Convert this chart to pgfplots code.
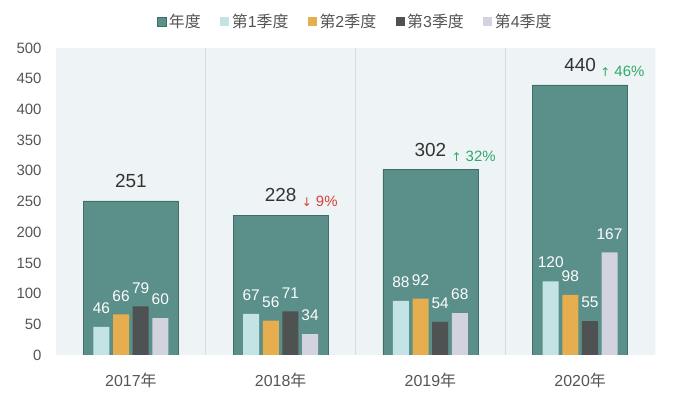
\documentclass[border=0pt]{standalone}
\usepackage{pgfplots}
\pgfplotsset{compat=1.18}
\usepackage{fontspec}
\setmainfont{Liberation Sans}
\newfontfamily\cjk{Noto Sans CJK SC}
\newfontfamily\sym{DejaVu Sans}
\definecolor{annual}{HTML}{5A8F8A}
\definecolor{annualdark}{HTML}{3F6E69}
\definecolor{qone}{HTML}{C4E3E4}
\definecolor{qtwo}{HTML}{E6AE4E}
\definecolor{qthree}{HTML}{4F5252}
\definecolor{qfour}{HTML}{D3D2DF}
\definecolor{bg}{HTML}{EEF3F5}
\definecolor{sep}{HTML}{D6DDE1}
\definecolor{tickgray}{HTML}{555555}
\definecolor{labelgray}{HTML}{333333}
\definecolor{redc}{HTML}{D9403A}
\definecolor{greenc}{HTML}{2EAA6A}
\begin{document}
\begin{tikzpicture}
\useasboundingbox (0,0) rectangle (697bp,400bp);
\begin{axis}[
  at={(56bp,45bp)}, anchor=south west,
  scale only axis, width=599bp, height=307bp,
  xmin=-0.5, xmax=3.5, ymin=0, ymax=500,
  ytick={0,50,...,500},
  xtick={0,1,2,3},
  xticklabels={2017{\cjk 年},2018{\cjk 年},2019{\cjk 年},2020{\cjk 年}},
  axis line style={draw=none},
  major tick style={draw=none},
  tick label style={text=tickgray},
  yticklabel style={font=\fontsize{15}{15}\selectfont, xshift=-11bp},
  xticklabel style={font=\fontsize{16}{16}\selectfont, yshift=-10bp},
  /pgf/number format/assume math mode=true,
  axis background/.style={fill=bg},
  ybar,
  legend image code/.code={\path[#1] (0bp,-4.5bp) rectangle (9bp,4.5bp);},
  legend columns=5,
  legend style={at={(0.5,1)}, anchor=center, yshift=26bp, draw=none, fill=none,
    font=\fontsize{16}{16}\selectfont, text=tickgray,
    nodes={inner sep=2.5bp},
    /tikz/every even column/.append style={column sep=17bp}},
  every node near coord/.append style={inner sep=0pt, anchor=south},
]
\addplot[ybar, bar width=95bp, bar shift=0bp, fill=annual, draw=annualdark, line width=0.6bp,
  nodes near coords,
  every node near coord/.append style={font=\fontsize{19}{19}\selectfont, text=labelgray, yshift=13bp}]
  coordinates {(0,251) (1,228) (2,302) (3,440)};
\addlegendentry{{\cjk 年度}}
\addplot[ybar, bar width=16bp, bar shift=-29.4bp, fill=qone, draw=none,
  nodes near coords,
  every node near coord/.append style={font=\fontsize{15.5}{15.5}\selectfont, text=white, yshift=13bp}]
  coordinates {(0,46) (1,67) (2,88) (3,120)};
\addlegendentry{{\cjk 第}1{\cjk 季度}}
\addplot[ybar, bar width=16bp, bar shift=-9.8bp, fill=qtwo, draw=none,
  nodes near coords,
  every node near coord/.append style={font=\fontsize{15.5}{15.5}\selectfont, text=white, yshift=13bp}]
  coordinates {(0,66) (1,56) (2,92) (3,98)};
\addlegendentry{{\cjk 第}2{\cjk 季度}}
\addplot[ybar, bar width=16bp, bar shift=9.8bp, fill=qthree, draw=none,
  nodes near coords,
  every node near coord/.append style={font=\fontsize{15.5}{15.5}\selectfont, text=white, yshift=13bp}]
  coordinates {(0,79) (1,71) (2,54) (3,55)};
\addlegendentry{{\cjk 第}3{\cjk 季度}}
\addplot[ybar, bar width=16bp, bar shift=29.4bp, fill=qfour, draw=none,
  nodes near coords,
  every node near coord/.append style={font=\fontsize{15.5}{15.5}\selectfont, text=white, yshift=13bp}]
  coordinates {(0,60) (1,34) (2,68) (3,167)};
\addlegendentry{{\cjk 第}4{\cjk 季度}}
\draw[sep, line width=1bp] (axis cs:0.5,0) -- (axis cs:0.5,500);
\draw[sep, line width=1bp] (axis cs:1.5,0) -- (axis cs:1.5,500);
\draw[sep, line width=1bp] (axis cs:2.5,0) -- (axis cs:2.5,500);
\draw[sep, line width=0.8bp] (axis cs:3.5,0) -- (axis cs:3.5,500);
\draw[sep, line width=1bp] (axis cs:-0.5,0) -- (axis cs:3.5,0);
\node[anchor=base west, inner sep=0pt, text=redc, font=\fontsize{15}{15}\selectfont, xshift=21bp, yshift=8.5bp]
  at (axis cs:1,228) {{\sym\fontsize{12}{12}\selectfont ↓} 9\%};
\node[anchor=base west, inner sep=0pt, text=greenc, font=\fontsize{15}{15}\selectfont, xshift=21bp, yshift=8.5bp]
  at (axis cs:2,302) {{\sym\fontsize{12}{12}\selectfont ↑} 32\%};
\node[anchor=base west, inner sep=0pt, text=greenc, font=\fontsize{15}{15}\selectfont, xshift=20bp, yshift=8.5bp]
  at (axis cs:3,440) {{\sym\fontsize{12}{12}\selectfont ↑} 46\%};
\end{axis}
\end{tikzpicture}
\end{document}
